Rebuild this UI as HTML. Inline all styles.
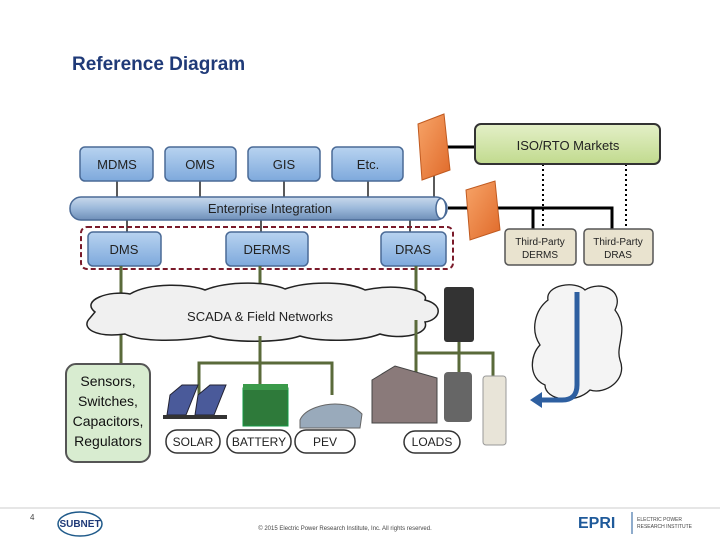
<!DOCTYPE html>
<html><head><style>body{margin:0;background:#fff}svg{display:block;font-family:"Liberation Sans",sans-serif}</style></head><body>
<svg width="720" height="540" viewBox="0 0 720 540">
<defs>
<linearGradient id="b" x1="0" y1="0" x2="0" y2="1"><stop offset="0" stop-color="#b8d3f0"/><stop offset="1" stop-color="#7ea9dc"/></linearGradient>
<linearGradient id="p" x1="0" y1="0" x2="0" y2="1"><stop offset="0" stop-color="#c9d9ec"/><stop offset=".5" stop-color="#9bb8da"/><stop offset="1" stop-color="#6f8fb8"/></linearGradient>
<linearGradient id="g" x1="0" y1="0" x2="0" y2="1"><stop offset="0" stop-color="#e4f0c8"/><stop offset="1" stop-color="#c1da8e"/></linearGradient>
<linearGradient id="f" x1="0" y1="0" x2="1" y2="1"><stop offset="0" stop-color="#f7a468"/><stop offset="1" stop-color="#e06a2a"/></linearGradient>
</defs>
<text x="72" y="70" font-size="19" font-weight="bold" fill="#1f3a78">Reference Diagram</text>
<g stroke="#000" stroke-width="1.3">
<line x1="117" y1="181" x2="117" y2="199"/><line x1="200" y1="181" x2="200" y2="199"/><line x1="284" y1="181" x2="284" y2="199"/><line x1="368" y1="181" x2="368" y2="199"/>
<line x1="434" y1="170" x2="434" y2="199"/>
<line x1="127" y1="218" x2="127" y2="234"/><line x1="261" y1="218" x2="261" y2="234"/><line x1="410" y1="218" x2="410" y2="234"/>
</g>
<g stroke="#000" stroke-width="3" fill="none">
<line x1="444" y1="147" x2="478" y2="147"/>
<line x1="448" y1="208" x2="470" y2="208"/>
<polyline points="492,208 533,208 533,231"/><polyline points="533,208 612,208 612,231"/>
</g>
<g stroke="#000" stroke-width="2" stroke-dasharray="2,3"><line x1="543" y1="164" x2="543" y2="229"/><line x1="626" y1="164" x2="626" y2="229"/></g>
<rect x="81" y="227" width="372" height="42" rx="6" fill="none" stroke="#7a1a2a" stroke-width="2" stroke-dasharray="5,3"/>
<g fill="url(#b)" stroke="#4a6a96" stroke-width="1.5">
<rect x="80" y="147" width="73" height="34" rx="5"/><rect x="165" y="147" width="71" height="34" rx="5"/><rect x="248" y="147" width="72" height="34" rx="5"/><rect x="332" y="147" width="71" height="34" rx="5"/>
<rect x="88" y="232" width="73" height="34" rx="5"/><rect x="226" y="232" width="82" height="34" rx="5"/><rect x="381" y="232" width="65" height="34" rx="5"/>
</g>
<rect x="70" y="197" width="377" height="23" rx="11" fill="url(#p)" stroke="#4a6a96" stroke-width="1.5"/>
<ellipse cx="441" cy="208.5" rx="5" ry="10" fill="#fff" stroke="#4a6a96" stroke-width="1.5"/>
<rect x="475" y="124" width="185" height="40" rx="6" fill="url(#g)" stroke="#333" stroke-width="2"/>
<g fill="#e9e3cf" stroke="#555" stroke-width="1.5"><rect x="505" y="229" width="71" height="36" rx="4"/><rect x="584" y="229" width="69" height="36" rx="4"/></g>
<polygon points="418,124 444,114 450,170 422,180" fill="url(#f)" stroke="#c05a20"/>
<polygon points="466,190 495,181 500,230 470,240" fill="url(#f)" stroke="#c05a20"/>
<g font-size="13" fill="#222" text-anchor="middle">
<text x="117" y="169">MDMS</text><text x="200" y="169">OMS</text><text x="284" y="169">GIS</text><text x="368" y="169">Etc.</text>
<text x="124" y="254">DMS</text><text x="267" y="254">DERMS</text><text x="413" y="254">DRAS</text>
<text x="568" y="150">ISO/RTO Markets</text>
<text x="270" y="213">Enterprise Integration</text>
</g>
<g font-size="10" fill="#222" text-anchor="middle"><text x="540" y="245">Third-Party</text><text x="540" y="258">DERMS</text><text x="618" y="245">Third-Party</text><text x="618" y="258">DRAS</text></g>
<g stroke="#5a6a3a" stroke-width="3" fill="none">
<line x1="121" y1="266" x2="121" y2="366"/>
<line x1="260" y1="266" x2="260" y2="384"/><polyline points="199,395 199,363 332,363 332,395"/>
<line x1="416" y1="266" x2="416" y2="372"/><polyline points="416,353 493,353 493,377"/><line x1="459" y1="340" x2="459" y2="372"/>
</g>
<path d="M95,312 C80,300 110,290 130,294 C150,282 190,284 205,290 C230,280 270,282 285,289 C310,280 350,282 365,290 C395,283 430,290 425,300 C445,305 440,320 425,322 C430,335 400,340 380,334 C360,342 320,342 300,336 C280,343 230,343 210,336 C180,342 140,342 125,334 C95,338 80,328 90,318 Z" fill="#f0f0f0" stroke="#222" stroke-width="1.5"/>
<text x="260" y="321" font-size="13" text-anchor="middle" fill="#222">SCADA &amp; Field Networks</text>
<g stroke="#5a6a3a" stroke-width="3"><line x1="121" y1="336" x2="121" y2="366"/><line x1="260" y1="336" x2="260" y2="384"/><line x1="416" y1="320" x2="416" y2="372"/></g>
<rect x="66" y="364" width="84" height="98" rx="10" stroke="#555" stroke-width="2" fill="#d8ecd0"/>
<g font-size="14" fill="#111" text-anchor="middle"><text x="108" y="386">Sensors,</text><text x="108" y="406">Switches,</text><text x="108" y="426">Capacitors,</text><text x="108" y="446">Regulators</text></g>
<g fill="#fff" stroke="#333" stroke-width="1.5"><rect x="166" y="430" width="54" height="23" rx="11"/><rect x="227" y="430" width="64" height="23" rx="11"/><rect x="295" y="430" width="60" height="23" rx="11"/><rect x="404" y="431" width="56" height="22" rx="11"/></g>
<g font-size="12" fill="#222" text-anchor="middle"><text x="193" y="446">SOLAR</text><text x="259" y="446">BATTERY</text><text x="325" y="446">PEV</text><text x="432" y="446">LOADS</text></g>
<g fill="#4a5a9a" stroke="#223"><polygon points="170,395 182,385 198,385 186,415 167,415"/><polygon points="198,395 210,385 226,385 214,415 195,415"/></g>
<rect x="163" y="415" width="64" height="4" fill="#333"/>
<rect x="243" y="388" width="45" height="38" fill="#2e7a3a" stroke="#194"/><rect x="243" y="384" width="45" height="6" fill="#3a9a4a"/>
<path d="M300,420 C305,408 325,404 335,404 C352,404 358,410 362,414 L360,428 L300,428 Z" fill="#9ab" stroke="#666"/>
<polygon points="372,380 395,366 437,378 437,423 372,423" fill="#8a7a7a" stroke="#444"/>
<rect x="444" y="287" width="30" height="55" rx="3" fill="#333"/>
<rect x="444" y="372" width="28" height="50" rx="4" fill="#666"/>
<rect x="483" y="376" width="23" height="69" rx="3" fill="#e8e4d8" stroke="#999"/>
<path d="M548,300 C545,285 575,280 585,290 C600,280 625,290 615,310 C630,330 615,345 620,360 C628,380 605,395 590,390 C575,405 545,400 545,385 C528,378 530,355 540,345 C530,330 535,310 548,300 Z" fill="#f4f4f4" stroke="#222" stroke-width="1.3"/>
<path d="M577,292 L577,385 Q577,400 562,400 L540,400" fill="none" stroke="#2e5fa0" stroke-width="5"/>
<polygon points="530,400 542,392 542,408" fill="#2e5fa0"/>
<line x1="0" y1="508" x2="720" y2="508" stroke="#ccc"/>
<text x="30" y="520" font-size="8" fill="#444">4</text>
<ellipse cx="80" cy="524" rx="22" ry="12" fill="none" stroke="#1f5a8a" stroke-width="1.5"/>
<text x="80" y="527" font-size="10" font-weight="bold" fill="#1f3a78" text-anchor="middle">SUBNET</text>
<text x="345" y="530" font-size="6" fill="#444" text-anchor="middle">© 2015 Electric Power Research Institute, Inc. All rights reserved.</text>
<text x="578" y="528" font-size="16" font-weight="bold" fill="#1f5a9a">EPRI</text>
<line x1="632" y1="512" x2="632" y2="534" stroke="#1f5a9a"/>
<text x="637" y="521" font-size="5" fill="#444">ELECTRIC POWER</text><text x="637" y="528" font-size="5" fill="#444">RESEARCH INSTITUTE</text>
</svg>
</body></html>
